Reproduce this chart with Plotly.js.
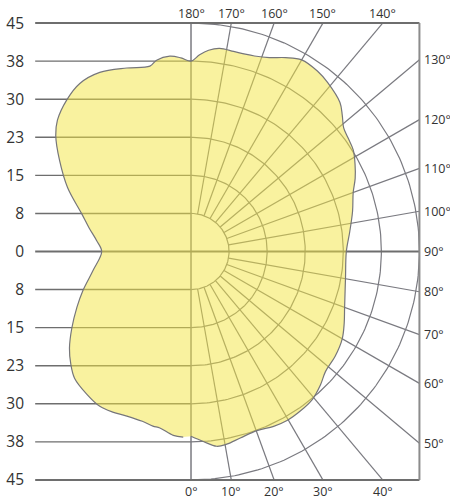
<!DOCTYPE html>
<html><head><meta charset="utf-8">
<script src="https://cdn.plot.ly/plotly-3.0.1.min.js"></script>
<style>html,body{margin:0;padding:0;background:#fff}</style>
</head><body><div id="chart" style="width:450px;height:499px"></div>
<script>
// ---- data ----
const ringValues = [7.5, 15, 22.5, 30, 37.5, 45];
const ringLabels = ["8", "15", "23", "30", "38", "45"];
const spokeAngles = [10, 20, 30, 40, 50, 60, 70, 80, 100, 110, 120, 130, 140, 150, 160, 170];
const bottomLabelAngles = [0, 10, 20, 30, 40];
const rightLabelAngles = [50, 60, 70, 80, 90, 100, 110, 120, 130];
const topLabelAngles = [140, 150, 160, 170, 180];

// right half of the light distribution (angle from nadir, value)
const rightAngles = [0, 3.7, 7.5, 10.5, 14.8, 20.2, 25.3, 29.6, 34.4, 39.3, 44.2, 48.3, 54, 60, 65, 70, 80, 90, 97, 104, 110, 114, 118, 122, 126, 129, 132, 135, 141, 145, 150, 154, 158, 162, 165, 168, 172, 175, 177.5, 180];
const rightValues = [36.4, 37.5, 38.7, 38.6, 38.0, 37.6, 38.1, 38.3, 38.1, 37.7, 36.6, 35.5, 35.1, 34.4, 33.3, 32.2, 30.9, 30.6, 31.5, 32.8, 34.0, 35.4, 36.6, 37.7, 38.2, 38.7, 40.1, 41.5, 42.8, 43.4, 43.6, 42.5, 41.2, 40.5, 40.3, 40.3, 40.4, 39.8, 38.8, 37.5];
// left half (angle from nadir, value)
const leftAngles = [177, 173.8, 169.8, 167.5, 160.7, 153, 146.5, 140.6, 134.5, 130.6, 124.7, 117.4, 109.1, 103, 96.5, 90, 78.9, 70, 64, 57.3, 51.5, 47, 42.6, 36.2, 30.5, 26, 21.3, 16, 12.3, 10, 5.5, 2.4];
const leftValues = [38.2, 38.7, 38.3, 37.4, 38.3, 39.6, 39.7, 38.6, 36.9, 35.1, 31.5, 27.4, 22.8, 20.6, 18.7, 17.6, 19.7, 22.7, 25.0, 27.9, 30.6, 32.4, 33.9, 34.8, 35.4, 35.2, 34.8, 34.8, 35.2, 35.3, 36.4, 36.6];

// ---- geometry helpers (layout) ----
const R = 45;            // frame half-size in diagram units
const xLeft = -30.7;     // left end of the horizontal scale lines
const d2r = Math.PI / 180;
const px = (a, r) => r * Math.sin(a * d2r);
const py = (a, r) => -r * Math.cos(a * d2r);

const gridCol = '#7a7a80', darkCol = '#6e6e6e';
const traces = [];

// left horizontal lines
let hx = [], hy = [];
ringValues.slice(0, -1).forEach(r => { hx.push(xLeft, 0, null, xLeft, 0, null); hy.push(r, r, null, -r, -r, null); });
traces.push({x: hx, y: hy, mode: 'lines', line: {color: darkCol, width: 1.4}, hoverinfo: 'skip'});
// right arcs
let ax = [], ay = [];
ringValues.forEach(r => { for (let a = 0; a <= 180; a += 1) { ax.push(px(a, r)); ay.push(py(a, r)); } ax.push(null); ay.push(null); });
traces.push({x: ax, y: ay, mode: 'lines', line: {color: gridCol, width: 1.2}, hoverinfo: 'skip'});
// spokes
let sx = [], sy = [];
spokeAngles.forEach(a => {
  const s = Math.sin(a * d2r), c = Math.cos(a * d2r);
  const t = Math.min(R / Math.abs(s), R / Math.abs(c));
  sx.push(px(a, ringValues[0]), px(a, t), null); sy.push(py(a, ringValues[0]), py(a, t), null);
});
traces.push({x: sx, y: sy, mode: 'lines', line: {color: gridCol, width: 1.2}, hoverinfo: 'skip'});
// vertical axis
traces.push({x: [0, 0], y: [-R, R], mode: 'lines', line: {color: gridCol, width: 1.5}, hoverinfo: 'skip'});
// zero line and frame
traces.push({x: [xLeft, R, null, xLeft, R, null, xLeft, R], y: [0, 0, null, R, R, null, -R, -R], mode: 'lines', line: {color: darkCol, width: 2}, hoverinfo: 'skip'});
traces.push({x: [R, R], y: [-R, R], mode: 'lines', line: {color: '#8c8c8c', width: 2}, hoverinfo: 'skip'});

// curve
const cx = [], cy = [];
rightAngles.forEach((a, i) => { cx.push(px(a, rightValues[i])); cy.push(py(a, rightValues[i])); });
leftAngles.forEach((a, i) => { cx.push(-px(a, leftValues[i])); cy.push(py(a, leftValues[i])); });
traces.push({x: cx, y: cy, mode: 'lines', fill: 'toself', fillcolor: 'rgba(243,229,63,0.5)',
  line: {color: '#76767a', width: 1.2, shape: 'spline', smoothing: 1}, hoverinfo: 'skip'});

// labels
const lf = {family: 'Open Sans, sans-serif', size: 12.5, color: '#333'};
const ann = [];
topLabelAngles.forEach(a => ann.push({x: -R * Math.tan(a * d2r), y: 1, xref: 'x', yref: 'paper', text: a + '°', showarrow: false, xanchor: 'center', yanchor: 'middle', yshift: 5, font: lf}));
bottomLabelAngles.forEach(a => ann.push({x: R * Math.tan(a * d2r), y: 0, xref: 'x', yref: 'paper', text: a + '°', showarrow: false, xanchor: 'center', yanchor: 'middle', yshift: -6, font: lf}));
rightLabelAngles.forEach(a => ann.push({x: R, y: -R / Math.tan(a * d2r), xref: 'x', yref: 'y', text: a + '°', showarrow: false, xanchor: 'left', yanchor: 'middle', xshift: 3, font: lf}));

const tickVals = ringValues.slice().reverse().concat([0], ringValues.map(v => -v));
const tickText = ringLabels.slice().reverse().concat(['0'], ringLabels);

Plotly.newPlot('chart', traces, {
  width: 450, height: 499,
  margin: {l: 33, r: 26, t: 18, b: 14},
  paper_bgcolor: '#fff', plot_bgcolor: '#fff',
  showlegend: false,
  xaxis: {range: [-31.13, 45.90], visible: false, fixedrange: true},
  yaxis: {range: [-46, 46], tickvals: tickVals, ticktext: tickText, showgrid: false, zeroline: false, showline: false,
    ticks: '', ticklabelstandoff: 8, tickfont: {family: 'Open Sans, sans-serif', size: 15.5, color: '#333'}, fixedrange: true},
  annotations: ann
}, {staticPlot: true});
</script></body></html>
